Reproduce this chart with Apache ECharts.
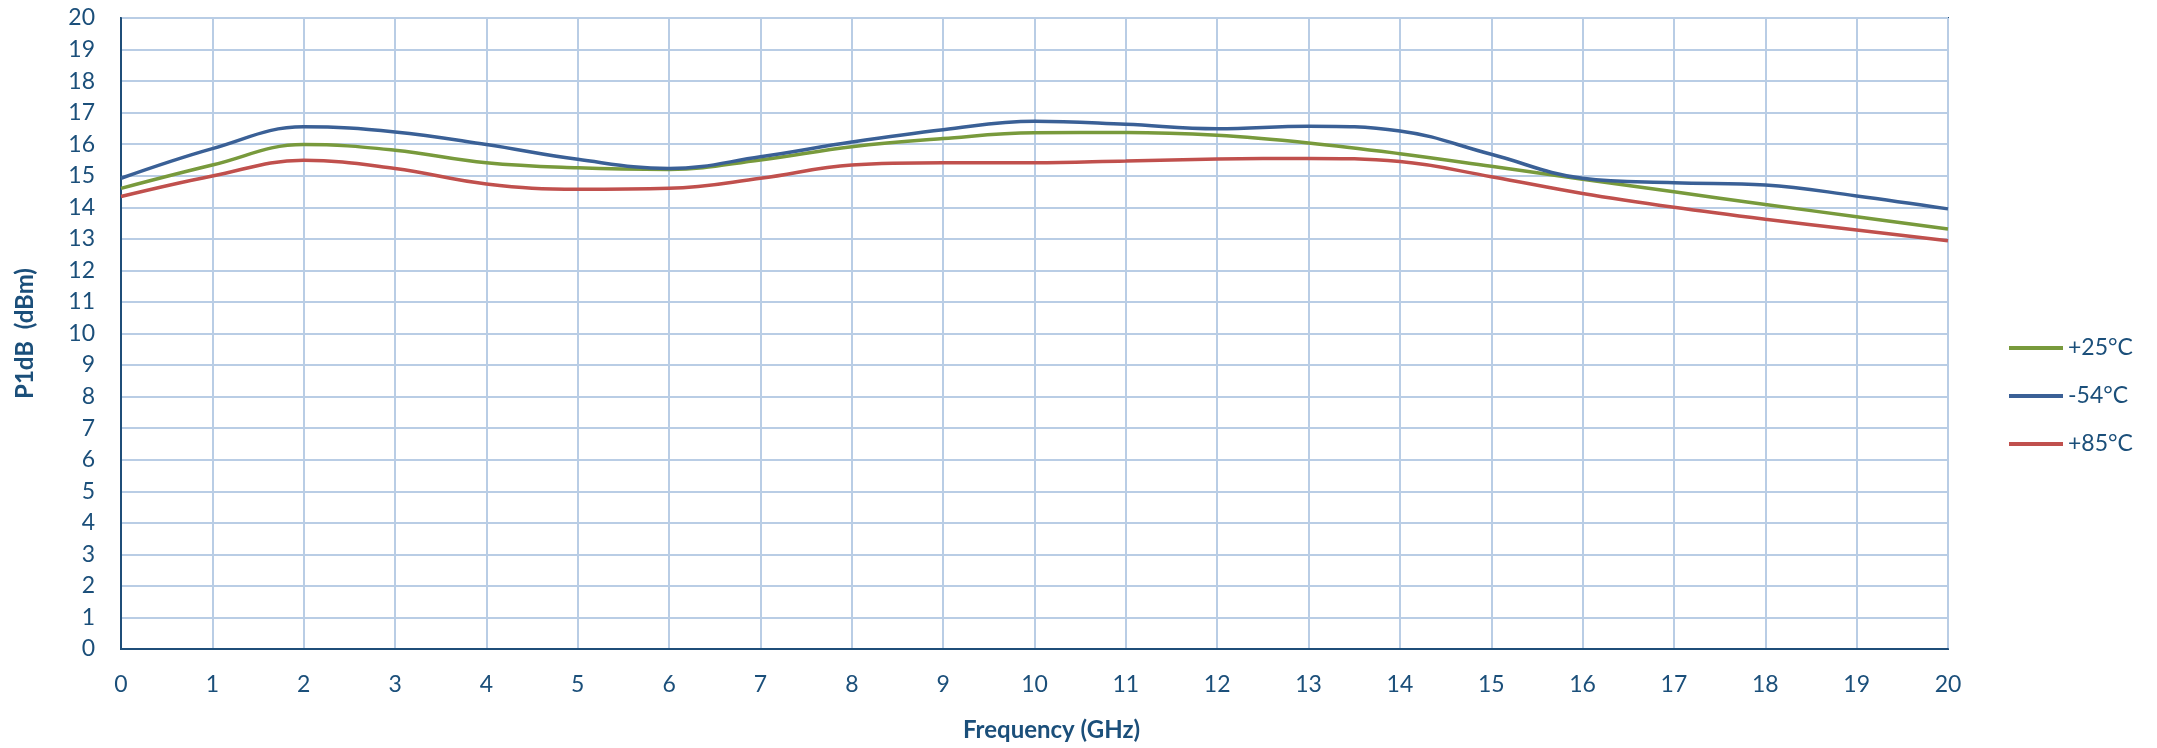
<!DOCTYPE html>
<html>
<head>
<meta charset="utf-8">
<title>P1dB vs Frequency</title>
<script src="https://cdn.jsdelivr.net/npm/echarts@6/dist/echarts.min.js"></script>
<style>
    html, body { margin: 0; padding: 0; background: #fff; }
    #Echarts1 { width: 2157px; height: 748px; }
</style>
</head>
<body>
<div id="Echarts1"></div>
<script>
// 频率点 (GHz)
var freqs = [0, 1, 2, 3, 4, 5, 6, 7, 8, 9, 10, 11, 12, 13, 14, 15, 16, 17, 18, 19, 20];

// 各温度下的 P1dB (dBm)
var p25 = [14.6, 15.34, 15.99, 15.81, 15.41, 15.25, 15.2, 15.5, 15.92, 16.18, 16.36, 16.37, 16.28, 16.04, 15.7, 15.3, 14.89, 14.49, 14.09, 13.7, 13.31];
var m54 = [14.92, 15.86, 16.55, 16.39, 15.99, 15.52, 15.23, 15.6, 16.07, 16.46, 16.73, 16.63, 16.49, 16.57, 16.42, 15.68, 14.92, 14.78, 14.71, 14.36, 13.95];
var p85 = [14.34, 14.99, 15.49, 15.23, 14.74, 14.57, 14.6, 14.92, 15.34, 15.41, 15.41, 15.47, 15.53, 15.55, 15.45, 14.97, 14.44, 14.0, 13.62, 13.28, 12.94];

var seriesNames = ['+25°C', '-54°C', '+85°C'];
var seriesColors = ['#789A3C', '#3A6096', '#C0504D'];

function toPairs(vals) {
    return freqs.map(function (f, i) { return [f, vals[i]]; });
}

function initEcharts1() {
    var myChart = echarts.init(document.getElementById('Echarts1'));
    var textColor = '#1B4F7A';
    var font = 'Lato, "Open Sans", sans-serif';

    var option = {
        animation: false,
        textStyle: { fontFamily: font },
        grid: {
            left: 121,
            right: 209,
            top: 18,
            bottom: 99,
            show: true,
            borderColor: '#1F4E79',
            borderWidth: 2
        },
        legend: {
            orient: 'vertical',
            left: 2004,
            top: 331,
            itemWidth: 54,
            itemHeight: 4,
            itemGap: 24,
            icon: 'rect',
            data: seriesNames,
            textStyle: { color: textColor, fontSize: 23, lineHeight: 24, fontFamily: font }
        },
        xAxis: {
            type: 'value',
            min: 0,
            max: 20,
            interval: 1,
            name: 'Frequency (GHz)',
            nameLocation: 'middle',
            nameGap: 69,
            nameTextStyle: { color: textColor, fontSize: 24, fontWeight: 'bold', padding: [0, 0, 0, 34] },
            axisLine: { show: true, lineStyle: { color: '#1F4E79', width: 2 } },
            axisTick: { show: false },
            axisLabel: { color: textColor, fontSize: 23, margin: 24 },
            splitLine: { show: true, lineStyle: { color: '#B9CDE5', width: 2 } }
        },
        yAxis: {
            type: 'value',
            min: 0,
            max: 20,
            interval: 1,
            name: 'P1dB  (dBm)',
            nameLocation: 'middle',
            nameGap: 84,
            nameTextStyle: { color: textColor, fontSize: 24, fontWeight: 'bold' },
            axisLine: { show: true, lineStyle: { color: '#1F4E79', width: 2 } },
            axisTick: { show: false },
            axisLabel: { color: textColor, fontSize: 23, margin: 26 },
            splitLine: { show: true, lineStyle: { color: '#B9CDE5', width: 2 } }
        },
        series: [
            {
                name: seriesNames[0],
                type: 'line',
                smooth: 0.4,
                symbol: 'none',
                color: seriesColors[0],
                lineStyle: { width: 3.5 },
                data: toPairs(p25)
            },
            {
                name: seriesNames[1],
                type: 'line',
                smooth: 0.4,
                symbol: 'none',
                color: seriesColors[1],
                lineStyle: { width: 3.5 },
                data: toPairs(m54)
            },
            {
                name: seriesNames[2],
                type: 'line',
                smooth: 0.4,
                symbol: 'none',
                color: seriesColors[2],
                lineStyle: { width: 3.5 },
                data: toPairs(p85)
            }
        ]
    };

    myChart.setOption(option);
}

initEcharts1();
</script>
</body>
</html>
